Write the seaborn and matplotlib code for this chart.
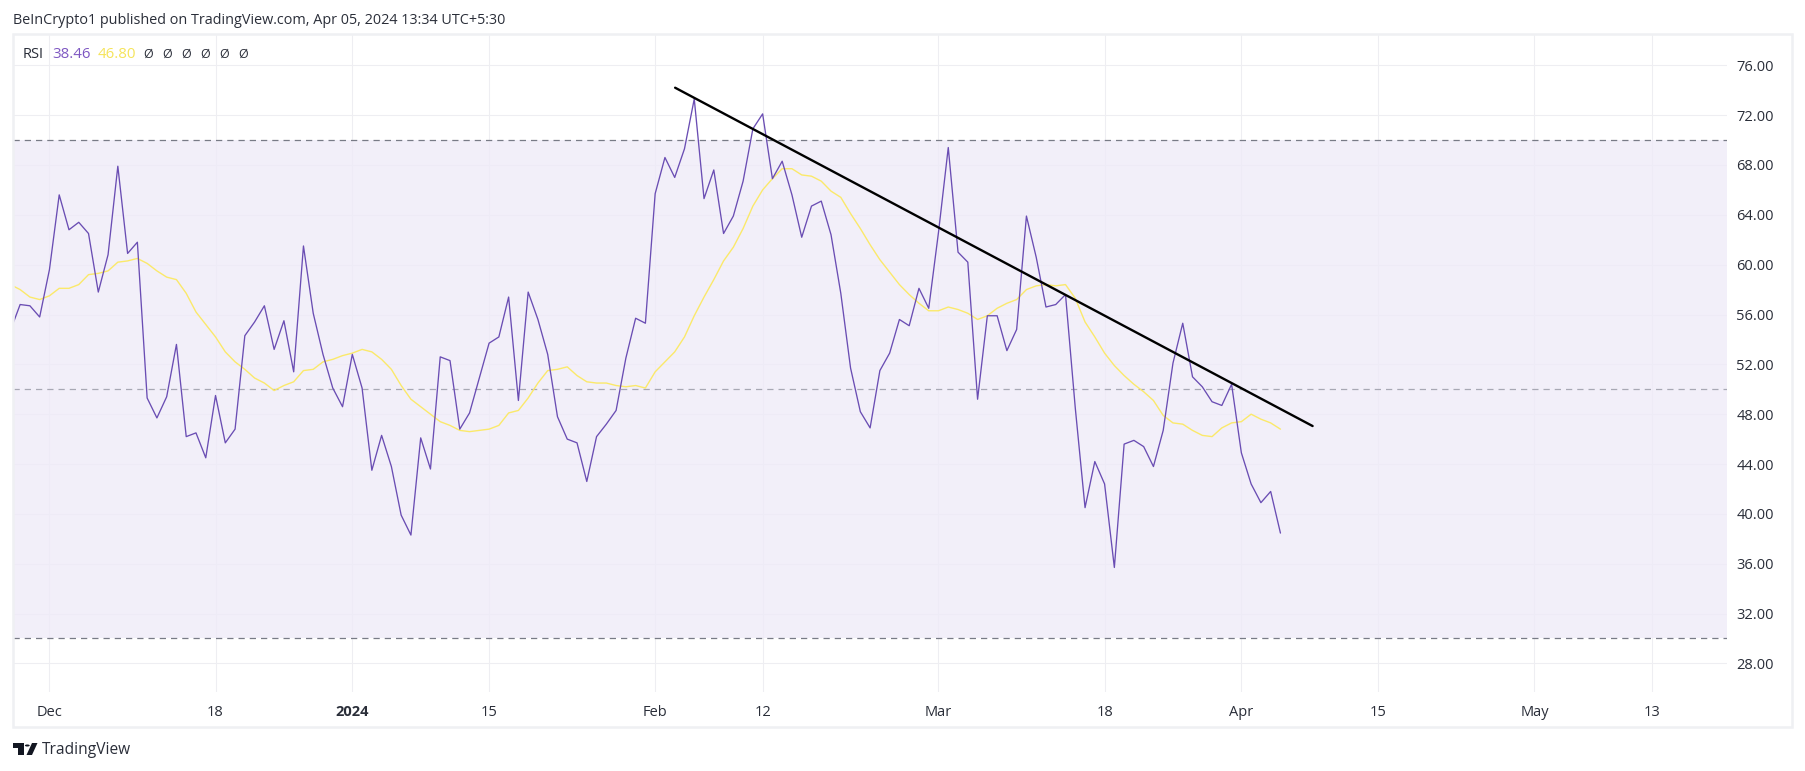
import matplotlib
matplotlib.use("Agg")
import matplotlib.pyplot as plt
from matplotlib.patches import Rectangle, Polygon, Circle
import pandas as pd
import seaborn as sns

# ---- data ----
rsi_nov = [54.7, 56.8, 56.7, 55.8]
rsi_dec = [59.6, 65.6, 62.8, 63.4, 62.5, 57.8, 60.8, 67.9, 60.9, 61.8,
           49.3, 47.7, 49.4, 53.6, 46.2, 46.5, 44.5, 49.5, 45.7, 46.8,
           54.3, 55.4, 56.7, 53.2, 55.5, 51.4, 61.5, 56.1, 52.8, 50.1, 48.6]
rsi_jan = [52.8, 50.1, 43.5, 46.3, 43.8, 39.9, 38.3, 46.1, 43.6, 52.6,
           52.3, 46.8, 48.1, 50.9, 53.7, 54.2, 57.4, 49.1, 57.8, 55.6,
           52.8, 47.8, 46.0, 45.7, 42.6, 46.2, 47.2, 48.3, 52.5, 55.7, 55.3]
rsi_feb = [65.7, 68.6, 67.0, 69.3, 73.3, 65.3, 67.6, 62.5, 63.9, 66.7,
           70.9, 72.1, 66.9, 68.3, 65.6, 62.2, 64.7, 65.1, 62.4, 57.7,
           51.7, 48.2, 46.9, 51.5, 52.9, 55.6, 55.1, 58.1, 56.5]
rsi_mar = [62.6, 69.4, 61.0, 60.2, 49.2, 55.9, 55.9, 53.1, 54.8, 63.9,
           60.6, 56.6, 56.8, 57.6, 48.5, 40.5, 44.2, 42.4, 35.7, 45.6,
           45.9, 45.4, 43.8, 46.7, 52.1, 55.3, 51.0, 50.2, 49.0, 48.7, 50.4]
rsi_apr = [44.9, 42.4, 40.9, 41.8, 38.46]

ma_nov = [58.4, 58.0, 57.4, 57.2]
ma_dec = [57.5, 58.1, 58.1, 58.4, 59.2, 59.3, 59.5, 60.2, 60.3, 60.5,
          60.1, 59.5, 59.0, 58.8, 57.7, 56.2, 55.2, 54.2, 53.0, 52.2,
          51.6, 50.9, 50.5, 49.9, 50.3, 50.6, 51.5, 51.6, 52.2, 52.4, 52.7]
ma_jan = [52.9, 53.2, 53.0, 52.4, 51.6, 50.3, 49.2, 48.6, 48.0, 47.4,
          47.1, 46.7, 46.6, 46.7, 46.8, 47.1, 48.1, 48.3, 49.3, 50.5,
          51.5, 51.6, 51.8, 51.1, 50.6, 50.5, 50.5, 50.3, 50.2, 50.3, 50.1]
ma_feb = [51.4, 52.2, 53.0, 54.2, 55.9, 57.4, 58.8, 60.3, 61.4, 62.9,
          64.7, 66.0, 66.9, 67.7, 67.7, 67.2, 67.1, 66.7, 65.9, 65.4,
          64.1, 62.9, 61.6, 60.4, 59.4, 58.4, 57.6, 56.9, 56.3]
ma_mar = [56.3, 56.6, 56.4, 56.1, 55.6, 55.9, 56.5, 56.9, 57.2, 58.0,
          58.3, 58.4, 58.3, 58.4, 57.3, 55.4, 54.2, 52.9, 51.9, 51.1,
          50.4, 49.8, 49.1, 47.9, 47.3, 47.2, 46.7, 46.3, 46.2, 46.9, 47.3]
ma_apr = [47.4, 48.0, 47.6, 47.3, 46.8]

first_day = "2023-11-27"
trend_days = ["2024-02-03 01:00", "2024-04-08 07:00"]
trend_values = [74.2, 47.05]
bands = [70, 50, 30]
y_ticks = [76, 72, 68, 64, 60, 56, 52, 48, 44, 40, 36, 32, 28]
x_tick_days = ["2023-12-01", "2023-12-18", "2024-01-01", "2024-01-15", "2024-02-01", "2024-02-12",
               "2024-03-01", "2024-03-18", "2024-04-01", "2024-04-15", "2024-05-01", "2024-05-13"]
x_tick_labels = ["Dec", "18", "2024", "15", "Feb", "12", "Mar", "18", "Apr", "15", "May", "13"]

rsi = rsi_nov + rsi_dec + rsi_jan + rsi_feb + rsi_mar + rsi_apr
ma = ma_nov + ma_dec + ma_jan + ma_feb + ma_mar + ma_apr
df = pd.DataFrame({"day": pd.date_range(first_day, periods=len(rsi), freq="D"), "rsi": rsi, "ma": ma})
trend = pd.DataFrame({"day": pd.to_datetime(trend_days), "value": trend_values})

sns.set_theme(style="white")
FONT = ["Open Sans", "DejaVu Sans"]
plt.rcParams["font.family"] = FONT

W, H = 1805, 771
fig = plt.figure(figsize=(W / 100, H / 100), dpi=100, facecolor="white")
L, R, T, B = 12.6, 1726.6, 35.0, 691.7
ax = fig.add_axes([L / W, 1 - B / H, (R - L) / W, (B - T) / H])

GRID = "#eeeef2"
PURPLE = "#6a4db3"
YELLOW = "#fbe96a"
ax.set_axisbelow(True)
ax.grid(True, color=GRID, lw=0.75)
ax.axhspan(bands[2], bands[0], color="#efebf8", alpha=0.8, lw=0, zorder=1)
ax.axhline(bands[0], color="#787b86", lw=0.9, dashes=(5, 4), zorder=2)
ax.axhline(bands[1], color="#a8a8b4", lw=0.9, dashes=(5, 4), zorder=2)
ax.axhline(bands[2], color="#787b86", lw=0.9, dashes=(5, 4), zorder=2)

sns.lineplot(data=df, x="day", y="ma", ax=ax, color=YELLOW, lw=1.0, zorder=3, errorbar=None)
sns.lineplot(data=df, x="day", y="rsi", ax=ax, color=PURPLE, lw=0.95, zorder=4, errorbar=None)
sns.lineplot(data=trend, x="day", y="value", ax=ax, color="black", lw=1.7, zorder=5, errorbar=None)

ax.set_xlim(pd.Timestamp("2023-11-27 05:30"), pd.Timestamp("2024-05-20 16:00"))
ax.set_ylim(25.73, 78.43)
ax.set_xlabel("")
ax.set_ylabel("")
for s in ax.spines.values():
    s.set_visible(False)
ax.yaxis.tick_right()
ax.set_yticks(y_ticks)
ax.set_yticklabels([f"{v:.2f}" for v in y_ticks], fontsize=10.5, color="#2a2e39")
ax.set_xticks(pd.to_datetime(x_tick_days))
ax.set_xticklabels(x_tick_labels, fontsize=10.5, color="#2a2e39")
for lab in ax.get_xticklabels():
    if lab.get_text() == "2024":
        lab.set_fontweight("bold")
ax.tick_params(axis="both", length=0)
ax.tick_params(axis="y", pad=7)
ax.tick_params(axis="x", pad=9.5)


def px(x, y):
    return x / W, 1 - y / H


# outer frame of the chart
fig.add_artist(Rectangle(px(12.6, 727), (1792 - 12.6) / W, (727 - 34) / H, transform=fig.transFigure,
                         fc="none", ec="#eff0f3", lw=1.8))

fig.text(*px(13, 20), "BeInCrypto1 published on TradingView.com, Apr 05, 2024 13:34 UTC+5:30",
         fontsize=10.4, color="#2a2e39", va="center", ha="left")
fig.text(*px(23, 54), "RSI", fontsize=10.5, color="#2a2e39", va="center", ha="left")
fig.text(*px(52, 54), "38.46", fontsize=10.8, color="#7e57c2", va="center", ha="left")
fig.text(*px(98, 54), "46.80", fontsize=10.8, color="#f5e45a", va="center", ha="left")
for cx in [148, 167, 186.4, 205.5, 224.5, 243.4]:
    fig.text(*px(cx, 54.5), "\u00d8", fontsize=9, color="#2a2e39", va="center", ha="center")

# TradingView mark
logo = "#131722"
fig.add_artist(Polygon([px(13, 743), px(24, 743), px(24, 755), px(18, 755), px(18, 748), px(13, 748)],
                       closed=True, transform=fig.transFigure, fc=logo, ec="none"))
fig.add_artist(Polygon([px(32, 743), px(37.5, 743), px(32, 755), px(26.5, 755)],
                       closed=True, transform=fig.transFigure, fc=logo, ec="none"))
fig.add_artist(Circle(px(27.3, 745.5), 2.4 / W, transform=fig.transFigure, fc=logo, ec="none"))
fig.text(*px(42, 750), "TradingView", fontsize=11.2, color="#2a2e39", va="center", ha="left")

fig.savefig("out.png", dpi=100)
